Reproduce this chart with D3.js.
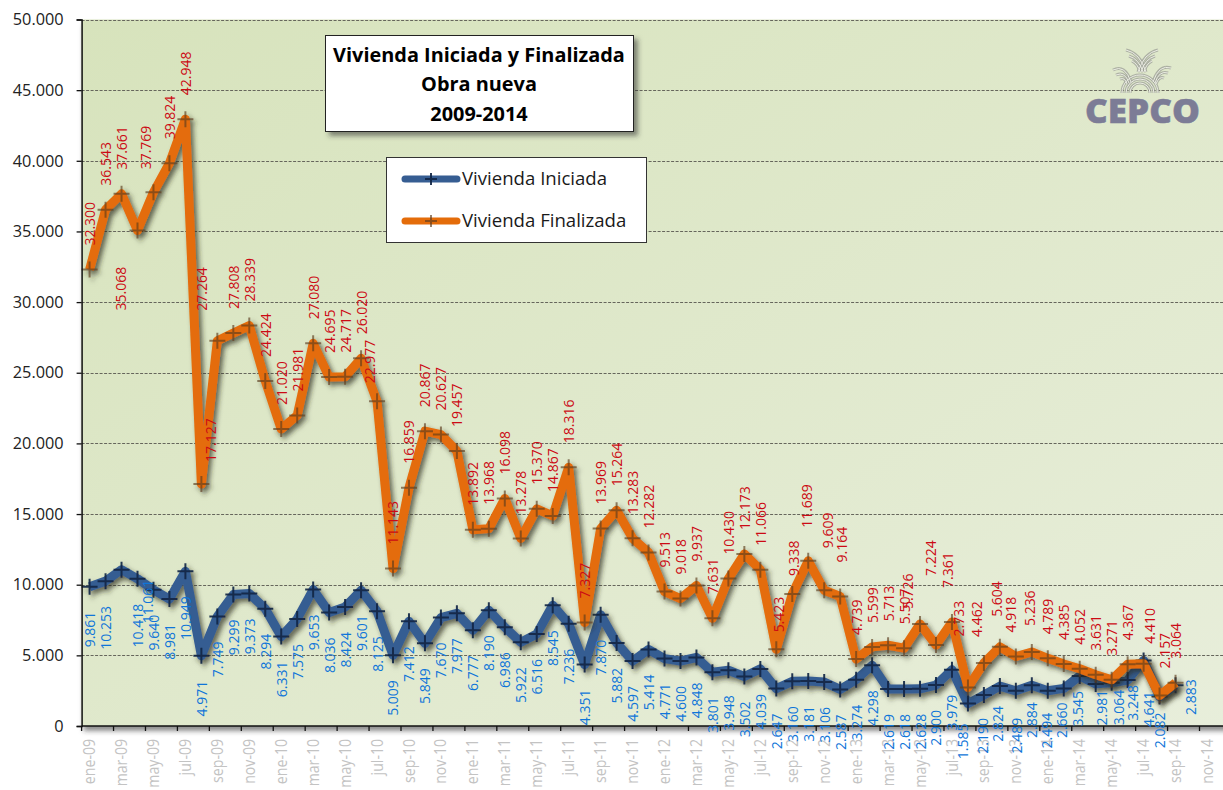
<!DOCTYPE html>
<html lang="es">
<head>
<meta charset="utf-8">
<title>Vivienda Iniciada y Finalizada</title>
<script src="https://cdn.jsdelivr.net/npm/d3@7/dist/d3.min.js"></script>
<style>
html,body{margin:0;padding:0;background:#fff;overflow:hidden}
svg{display:block}
text{font-family:"Open Sans",sans-serif}
</style>
</head>
<body>
<svg id="chart" width="1223" height="790"></svg>
<script>
const months = [
  "ene-09","feb-09","mar-09","abr-09","may-09","jun-09","jul-09","ago-09","sep-09","oct-09","nov-09","dic-09",
  "ene-10","feb-10","mar-10","abr-10","may-10","jun-10","jul-10","ago-10","sep-10","oct-10","nov-10","dic-10",
  "ene-11","feb-11","mar-11","abr-11","may-11","jun-11","jul-11","ago-11","sep-11","oct-11","nov-11","dic-11",
  "ene-12","feb-12","mar-12","abr-12","may-12","jun-12","jul-12","ago-12","sep-12","oct-12","nov-12","dic-12",
  "ene-13","feb-13","mar-13","abr-13","may-13","jun-13","jul-13","ago-13","sep-13","oct-13","nov-13","dic-13",
  "ene-14","feb-14","mar-14","abr-14","may-14","jun-14","jul-14","ago-14","sep-14","oct-14","nov-14","dic-14"
];
const iniciada = [
  9861,10253,11061,10418,9640,8981,10949,4971,7749,9299,9373,8294,
  6331,7575,9653,8036,8424,9601,8125,5009,7412,5849,7670,7977,
  6777,8190,6986,5922,6516,8545,7236,4351,7870,5882,4597,5414,
  4771,4600,4848,3801,3948,3502,4039,2647,3160,3181,3106,2587,
  3274,4298,2619,2618,2628,2900,3979,1585,2190,2824,2489,2884,
  2494,2660,3545,2981,3064,3248,4641,2082,2883
];
const finalizada = [
  32300,36543,37661,35068,37769,39824,42948,17127,27264,27808,28339,24424,
  21020,21981,27080,24695,24717,26020,22977,11143,16859,20867,20627,19457,
  13892,13968,16098,13278,15370,14867,18316,7327,13969,15264,13283,12282,
  9513,9018,9937,7631,10430,12173,11066,5423,9338,11689,9609,9164,
  4739,5599,5713,5507,7224,5726,7361,2733,4462,5604,4918,5236,
  4789,4385,4052,3631,3271,4367,4410,2157,3064
];
const yTicks = [0,5000,10000,15000,20000,25000,30000,35000,40000,45000,50000];
const titleLines = ["Vivienda Iniciada y Finalizada","Obra nueva","2009-2014"];
const seriesNames = ["Vivienda Iniciada","Vivienda Finalizada"];

// Hand-placed data labels in the original: pixel nudges from the default gap, by point index.
const redNudge = {3:[-17,80],4:[-8,-23],7:[9,-22],8:[-16,-30],18:[-8,-18],43:[2,-17],44:[1,-18],45:[-2,-33],46:[3,-42],47:[1,-34],52:[10,-48],53:[-28,-36],54:[-4,-34],55:[-9,-51],56:[-7,-26],57:[-3,-30],58:[-5,-24],59:[-2,-26],66:[6,-20],67:[5,-27]};
const blueNudge = {2:[26,10],55:[-5,20],56:[-1,23],57:[-2,20],58:[1,27],59:[0,17],60:[-1,22],61:[-2,14],62:[-2,15],63:[6,6],64:[7,7],65:[5,5],66:[5,31],67:[0,16],68:[15,-6]};

const plot = {left:81.6, top:19.5, bottom:726, right:1223, bandW:15.97};
const COL = {blue:"#365d92", orange:"#e46c0a", red:"#cc0a14", lblue:"#0f75d9"};

const svg = d3.select("#chart");
const defs = svg.append("defs");

const grad = defs.append("linearGradient").attr("id","bg")
  .attr("x1","0").attr("y1","0").attr("x2","1").attr("y2","1");
grad.append("stop").attr("offset","0").attr("stop-color","#d7e3bc");
grad.append("stop").attr("offset","1").attr("stop-color","#e8eedb");

function shadow(id,dx,dy,sd,op,col){
  const f = defs.append("filter").attr("id",id)
    .attr("x","-10%").attr("y","-10%").attr("width","120%").attr("height","120%");
  f.append("feDropShadow").attr("dx",dx).attr("dy",dy).attr("stdDeviation",sd)
    .attr("flood-color",col).attr("flood-opacity",op);
}
shadow("lineShadow",3,3.5,2.6,0.68,"#2a2a1e");
shadow("boxShadow",4,4,2.5,0.55,"#333");
shadow("plotShadow",2,5,2.5,0.55,"#333");

const x = d3.scaleBand().domain(months).range([plot.left, plot.left + plot.bandW*months.length]).padding(0);
const y = d3.scaleLinear().domain([0,50000]).range([plot.bottom, plot.top]);
const fmt = d3.formatLocale({thousands:".",decimal:",",grouping:[3],currency:["",""]}).format(",d");
const xc = i => x(months[i]) + x.bandwidth()/2;

svg.append("rect").attr("x",plot.left).attr("y",plot.top)
  .attr("width",plot.right-plot.left+30).attr("height",plot.bottom-plot.top)
  .attr("fill","url(#bg)").attr("filter","url(#plotShadow)");

// gridlines
svg.append("g").selectAll("line").data(yTicks.filter(d=>d>0)).join("line")
  .attr("x1",plot.left).attr("x2",plot.right)
  .attr("y1",d=>Math.round(y(d))+.5).attr("y2",d=>Math.round(y(d))+.5)
  .attr("stroke","#66665c").attr("stroke-width",1).attr("stroke-dasharray","3 1.5");

// logo
const logoPaths = [
  "M1130,93 a10,10 0 0 1 20,0","M1126,93 a14,14 0 0 1 28,0","M1122,93 a18,18 0 0 1 36,0",
  "M1126,50 q14,3 20,22","M1129,56 q10,3 14,16","M1132,61 q6,3 8,11",
  "M1158,50 q-14,3 -20,22","M1155,56 q-10,3 -14,16","M1152,61 q-6,3 -8,11",
  "M1113,70 q12,-6 18,12","M1116,75 q9,-4 13,8","M1120,79 q5,-2 7,5",
  "M1171,68 q-12,-4 -18,14","M1168,73 q-9,-3 -13,10","M1164,78 q-5,-2 -8,6"
];
const logo = svg.append("g").attr("fill","none");
logo.selectAll("path.a").data(logoPaths).join("path").attr("class","a").attr("d",d=>d)
  .attr("stroke","#9b9e96").attr("stroke-width",3).attr("stroke-opacity",.75);
logo.selectAll("path.b").data(logoPaths).join("path").attr("class","b").attr("d",d=>d)
  .attr("stroke","#eceee4").attr("stroke-width",1);
svg.append("text").attr("x",1142.5).attr("y",123).attr("text-anchor","middle")
  .attr("font-size",34).attr("font-weight",800).attr("fill","#7c7c96").attr("stroke","#7c7c96").attr("stroke-width",.5)
  .attr("textLength",115).attr("lengthAdjust","spacingAndGlyphs").text("CEPCO");

// series
const line = d3.line().x((d,i)=>xc(i)).y(d=>y(d));
const plus = (() => { const p = d3.path(); p.moveTo(-8,0); p.lineTo(8,0); p.moveTo(0,-8); p.lineTo(0,8); return p.toString(); })();

function drawSeries(values,color,plusColor,plusOp){
  const g = svg.append("g").attr("filter","url(#lineShadow)");
  g.append("path").datum(values).attr("d",line).attr("fill","none")
    .attr("stroke",color).attr("stroke-width",9).attr("stroke-linejoin","round");
  g.selectAll("path.m").data(values).join("path").attr("class","m")
    .attr("d",plus).attr("transform",(d,i)=>`translate(${xc(i)},${y(d)})`)
    .attr("fill","none").attr("stroke",plusColor).attr("stroke-opacity",plusOp).attr("stroke-width",2);
}
drawSeries(iniciada,COL.blue,"#0f2444",.9);
drawSeries(finalizada,COL.orange,"#5e3d20",.65);

// axes
const yAxis = d3.axisLeft(y).tickValues(yTicks).tickSize(5).tickPadding(13).tickFormat(d=>fmt(d));
const gy = svg.append("g").attr("transform",`translate(${plot.left},0)`).call(yAxis);
gy.select(".domain").attr("stroke","#111").attr("stroke-width",1.5);
gy.selectAll(".tick line").attr("stroke","#111").attr("stroke-width",1.3);
gy.selectAll(".tick text").attr("font-size",16.3).attr("fill","#222").style("font-family",'"Open Sans",sans-serif');

const shown = months.filter((m,i)=>i%2===0);
const xAxis = d3.axisBottom(x).tickValues(shown).tickSize(5);
const gx = svg.append("g").attr("transform",`translate(0,${plot.bottom})`).call(xAxis);
gx.select(".domain").attr("d",`M${plot.left},0H${plot.right}`).attr("stroke","#111").attr("stroke-width",1.5);
gx.selectAll(".tick line").attr("x1",-x.bandwidth()/2).attr("x2",-x.bandwidth()/2).attr("stroke","#111").attr("stroke-width",1.3);
gx.selectAll(".tick text").attr("transform","rotate(-90) scale(.92,1)").attr("x",-14).attr("y",0).attr("dy",".36em")
  .attr("text-anchor","end").attr("font-size",15.4).attr("fill","#c3c3c3").style("font-family",'"Open Sans",sans-serif');

// data labels
function drawLabels(values,nudge,defaultGap,color,anchor){
  svg.append("g").selectAll("text").data(values).join("text")
    .attr("transform",(d,i)=>{
      const n = nudge[i] || [0,defaultGap];
      return `translate(${xc(i)+n[0]},${y(d)+n[1]}) rotate(-90) scale(.92,1)`;
    })
    .attr("text-anchor",anchor).attr("dy",".36em")
    .attr("font-size",15.2).attr("fill",color).text(d=>fmt(d));
}
drawLabels(iniciada,blueNudge,25,COL.lblue,"end");
drawLabels(finalizada,redNudge,-24,COL.red,"start");

// title box
svg.append("rect").attr("x",325.5).attr("y",35.5).attr("width",308).attr("height",96)
  .attr("fill","#fff").attr("stroke","#222").attr("stroke-width",1).attr("filter","url(#boxShadow)");
svg.append("g").selectAll("text").data(titleLines).join("text")
  .attr("x",479).attr("y",(d,i)=>62+i*29.3).attr("text-anchor","middle")
  .attr("font-size",19.9).attr("font-weight",700).attr("fill","#000").text(d=>d);

// legend
svg.append("rect").attr("x",386.5).attr("y",157.5).attr("width",260).attr("height",85)
  .attr("fill","#fff").attr("stroke","#333").attr("stroke-width",1);
const leg = svg.append("g").selectAll("g").data(seriesNames).join("g")
  .attr("transform",(d,i)=>`translate(0,${179+i*42})`);
leg.append("line").attr("x1",405).attr("x2",457).attr("y1",0).attr("y2",0)
  .attr("stroke",(d,i)=>i?COL.orange:COL.blue).attr("stroke-width",7).attr("stroke-linecap","round");
leg.append("path").attr("d","M-6,0H6M0,-6V6").attr("transform","translate(431,0)").attr("fill","none")
  .attr("stroke",(d,i)=>i?"#5e3d20":"#0f2444").attr("stroke-opacity",(d,i)=>i?.65:.9).attr("stroke-width",2);
leg.append("text").attr("x",462).attr("y",6).attr("font-size",18.6).attr("fill","#1a1a1a").text(d=>d);
</script>
</body>
</html>
